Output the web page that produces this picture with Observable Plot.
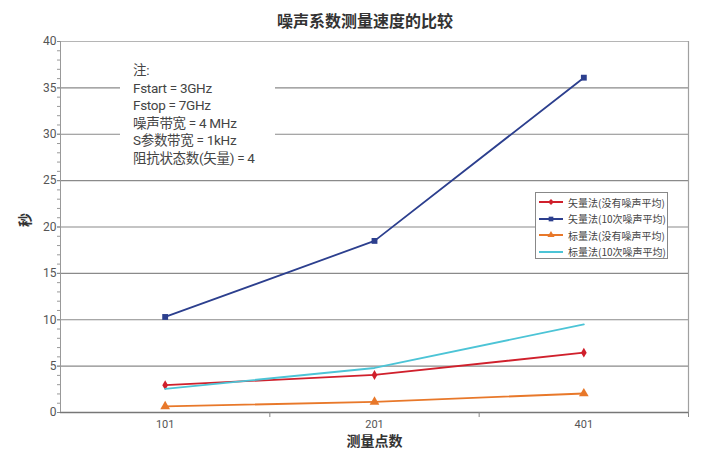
<!DOCTYPE html>
<html>
<head>
<meta charset="utf-8">
<script src="https://cdn.jsdelivr.net/npm/d3@7"></script>
<script src="https://cdn.jsdelivr.net/npm/@observablehq/plot@0.6"></script>
<style>
  html, body { margin: 0; padding: 0; background: #fff; }
  #wrap { position: relative; width: 720px; height: 464px; font-family: Roboto, "Noto Sans CJK SC", sans-serif; }
  #title { height: 32px; line-height: 40px; text-align: center; font-family: "Noto Sans CJK SC", sans-serif; font-weight: bold; font-size: 16px; color: #333; padding-left: 10px; box-sizing: border-box; }
  #note { position: absolute; left: 120px; top: 62px; width: 155px; height: 108px; background: #fff; padding-left: 13px; box-sizing: border-box; font-family: Roboto, "Noto Sans CJK SC", sans-serif; font-size: 13.5px; line-height: 17.5px; color: #444; letter-spacing: -0.3px; }
  #legend { position: absolute; left: 535px; top: 192px; width: 133px; height: 67px; border: 1px solid #888; background: #fff; box-sizing: border-box; padding-top: 1px; font-family: "Noto Sans CJK SC", sans-serif; font-size: 10px; color: #444; }
  .li { height: 16.5px; display: flex; align-items: center; }
  .li svg { margin-left: 3px; margin-right: 5px; }
</style>
</head>
<body>
<div id="wrap">
  <div id="title"></div>
  <div id="chart"></div>
  <div id="note"></div>
  <div id="legend"></div>
</div>
<script>
const title = "噪声系数测量速度的比较";
const xTitle = "测量点数";
const yTitle = "秒";
const categories = ["101", "201", "401"];
const seriesNames = ["矢量法(没有噪声平均)", "矢量法(10次噪声平均)", "标量法(没有噪声平均)", "标量法(10次噪声平均)"];
const vectorNoAvg = [2.95, 4.05, 6.45];
const vector10Avg = [10.3, 18.5, 36.1];
const scalarNoAvg = [0.65, 1.15, 2.05];
const scalar10Avg = [2.55, 4.8, 9.5];
const seriesColors = ["#d0202c", "#2c3f8e", "#e8782a", "#4cc4d6"];
const seriesSymbols = ["diamond", "square", "triangle", null];
const noteLines = ["注:", "Fstart = 3GHz", "Fstop = 7GHz", "噪声带宽 = 4 MHz", "S参数带宽 = 1kHz", "阻抗状态数(矢量) = 4"];
const yMajorTicks = [0, 5, 10, 15, 20, 25, 30, 35, 40];
const yMinorTicks = d3.range(0, 41, 1);
const gridTicks = [5, 10, 15, 20, 25, 30, 35];

document.getElementById("title").textContent = title;
document.getElementById("note").innerHTML = noteLines.map(s => `<div>${s}</div>`).join("");

const allSeries = [vectorNoAvg, vector10Avg, scalarNoAvg, scalar10Avg];
const data = [];
allSeries.forEach((vals, si) => vals.forEach((v, i) => data.push({series: seriesNames[si], idx: i, value: v, si})));

const xIdx = categories.map((c, i) => i);
const boundaries = categories.map((c, i) => i + 0.5);

const marks = [
  Plot.ruleY(gridTicks, {stroke: "#8a8a8a", strokeWidth: 1.2}),
  Plot.ruleY([40], {stroke: "#b5b5b5", strokeWidth: 1}),
  Plot.ruleX([categories.length - 0.5], {stroke: "#a0a0a0", strokeWidth: 1.2}),
  Plot.ruleY([0], {stroke: "#777", strokeWidth: 1.3}),
  Plot.ruleX([-0.5], {stroke: "#999", strokeWidth: 1}),
  Plot.axisY({ticks: yMinorTicks, tickSize: 3, tickFormat: () => "", label: null, stroke: "#999"}),
  Plot.axisY({ticks: yMajorTicks, tickSize: 3, tickPadding: 1, label: null, fontSize: 12, fill: "#555", stroke: "#888"}),
  Plot.axisX({ticks: xIdx, tickSize: 0, tickPadding: 8, tickFormat: i => categories[i], label: null, fontSize: 11, fill: "#555"}),
  Plot.axisX({ticks: boundaries, tickSize: 5, tickFormat: () => "", label: null, stroke: "#888"}),
  Plot.text([yTitle], {frameAnchor: "left", dx: -35, rotate: -90, fontSize: 14, fontWeight: "bold", fill: "#333"}),
  Plot.text([xTitle], {frameAnchor: "bottom", dy: 33, fontSize: 14, fontWeight: "bold", fill: "#333"}),
];
seriesNames.forEach((name, si) => {
  const d = data.filter(r => r.si === si);
  marks.push(Plot.line(d, {x: "idx", y: "value", stroke: seriesColors[si], strokeWidth: 1.8}));
  if (seriesSymbols[si]) {
    marks.push(Plot.dot(d, {x: "idx", y: "value", fill: seriesColors[si], symbol: () => seriesSymbols[si], r: si === 1 ? 3.3 : (si === 0 ? 3 : 3.6)}));
  }
});

const chart = Plot.plot({
  width: 720,
  height: 432,
  marginTop: 9,
  marginBottom: 52,
  marginLeft: 60,
  marginRight: 32,
  style: {fontFamily: "Roboto, 'Noto Sans CJK SC', sans-serif", background: "#fff"},
  x: {type: "linear", domain: [-0.5, categories.length - 0.5], axis: null},
  y: {domain: [0, 40], axis: null},
  symbol: {type: "identity"},
  marks
});
document.getElementById("chart").appendChild(chart);

// legend
const legend = document.getElementById("legend");
const symMap = {diamond: d3.symbolDiamond2, square: d3.symbolSquare, triangle: d3.symbolTriangle};
seriesNames.forEach((name, si) => {
  const row = document.createElement("div");
  row.className = "li";
  const s = d3.create("svg").attr("width", 24).attr("height", 10);
  s.append("line").attr("x1", 0).attr("x2", 24).attr("y1", 5).attr("y2", 5).attr("stroke", seriesColors[si]).attr("stroke-width", 2);
  if (seriesSymbols[si]) {
    s.append("path").attr("transform", "translate(12,5)").attr("d", d3.symbol(symMap[seriesSymbols[si]], 22)()).attr("fill", seriesColors[si]);
  }
  row.appendChild(s.node());
  const t = document.createElement("span");
  t.textContent = name;
  row.appendChild(t);
  legend.appendChild(row);
});
</script>
</body>
</html>
